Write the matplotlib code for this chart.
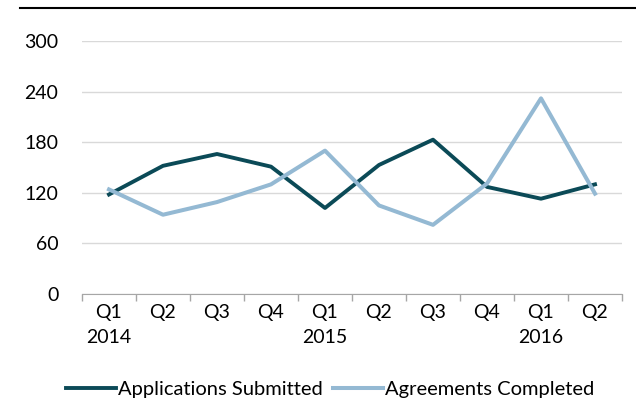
import numpy as np
import matplotlib.pyplot as plt
from matplotlib.lines import Line2D

quarters = ["Q1\n2014", "Q2", "Q3", "Q4", "Q1\n2015", "Q2", "Q3", "Q4", "Q1\n2016", "Q2"]
applications = [118, 152, 166, 151, 102, 153, 183, 127, 113, 130]
agreements = [124, 94, 109, 130, 170, 105, 82, 131, 232, 119]

dark = "#0B4A57"
light = "#94B9D3"

plt.rcParams["font.family"] = ["Lato", "DejaVu Sans"]
fs = 14

fig = plt.figure(figsize=(6.36, 4.09), dpi=100)
ax = fig.add_axes([82 / 636, 1 - 294 / 409, 540 / 636, 253 / 409])

x = np.arange(len(quarters))
ax.plot(x, applications, color=dark, lw=2.8, label="Applications Submitted")
ax.plot(x, agreements, color=light, lw=2.9, label="Agreements Completed")

ax.set_xlim(-0.5, len(quarters) - 0.5)
ax.set_ylim(0, 300)
ax.set_yticks(range(0, 301, 60))
ax.yaxis.grid(True, color="#D9D9D9", lw=1)
ax.set_axisbelow(True)
ax.tick_params(axis="y", length=0, pad=17, labelsize=fs)

# category labels centred, boundary ticks between them
ax.set_xticks(x)
ax.set_xticklabels(quarters, linespacing=1.6, va="top")
ax.set_xticks(np.arange(-0.5, len(quarters), 1), minor=True)
ax.tick_params(axis="x", which="major", length=0, pad=7, labelsize=fs)
ax.tick_params(axis="x", which="minor", length=5, color="#A6A6A6", width=1)

for s in ["top", "right", "left"]:
    ax.spines[s].set_visible(False)
ax.spines["bottom"].set_color("#A6A6A6")

fig.legend(loc="center", bbox_to_anchor=(330 / 636, 1 - 389 / 409), ncol=2, frameon=False,
           handlelength=2.5, handletextpad=0.1, columnspacing=0.5, fontsize=fs + 0.5)

# rule across the top of the figure
fig.add_artist(Line2D([20 / 636, 1], [1 - 8 / 409] * 2, color="black", lw=1.5))

fig.savefig("out.png", dpi=100)
